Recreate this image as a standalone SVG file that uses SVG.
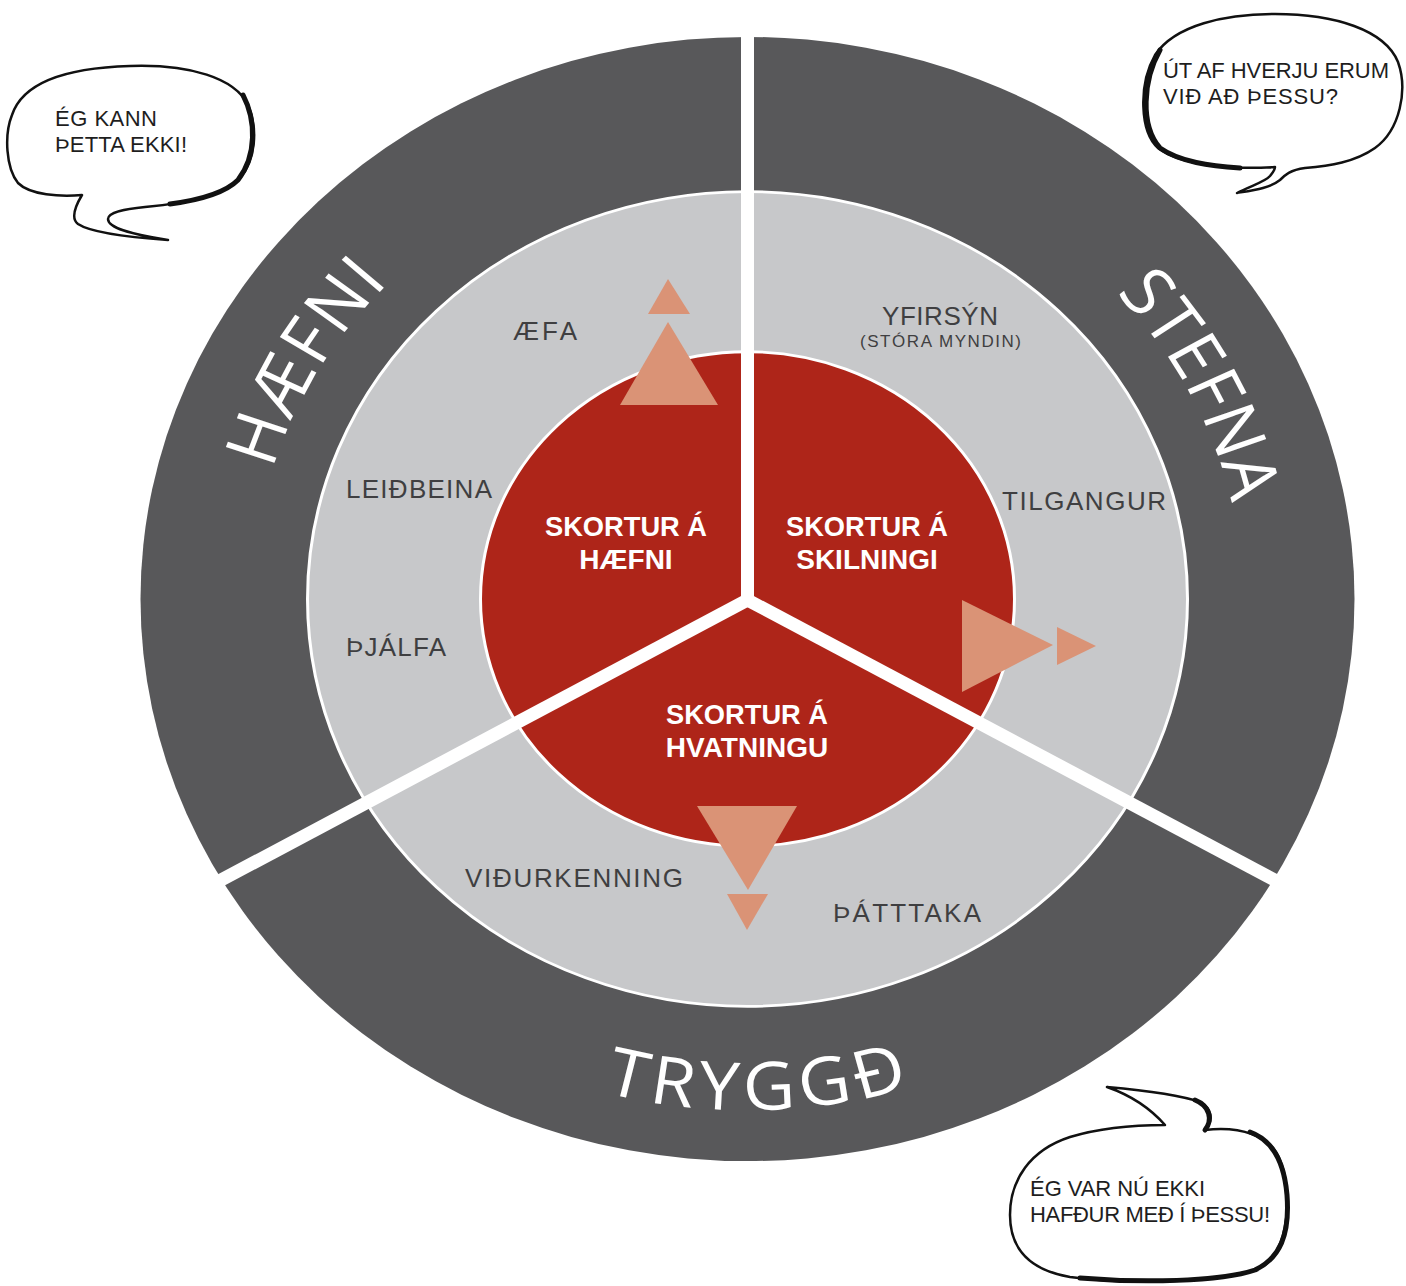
<svg xmlns="http://www.w3.org/2000/svg" width="1406" height="1286" viewBox="0 0 1406 1286">
<style>
.dark{fill:#58585a}
.light{fill:#c7c8ca;stroke:#fff;stroke-width:3}
.red{fill:#ae2519;stroke:#fff;stroke-width:3}
.tri{fill:#da9376}
.div{stroke:#fff;stroke-width:13;fill:none}
.big{font-family:"Open Sans","Liberation Sans",sans-serif;font-size:72px;fill:#fff}
.lbl{font-family:"Liberation Sans",Arial,sans-serif;font-size:26px;fill:#3f3f41}
.sm{font-size:17px}
.rt{font-family:"Liberation Sans",Arial,sans-serif;font-size:28px;font-weight:bold;fill:#fff;text-anchor:middle}
.bt{font-family:"Liberation Sans",Arial,sans-serif;font-size:22px;fill:#1e1e1e}
.bub{fill:#fff;stroke:#111;stroke-width:2.5;stroke-linejoin:round}
.brush{fill:none;stroke:#111;stroke-width:5;stroke-linecap:round}
</style>
<defs>
<path id="arcH" d="M -487.5 -86.0 A 495 495 0 0 1 -318.2 -379.2"/>
<path id="arcS" d="M 337.6 -362.0 A 495 495 0 0 1 491.3 -60.3"/>
<path id="arcT" d="M -179.7 521.9 A 552 552 0 0 0 197.8 515.4"/>
</defs>
<rect width="1406" height="1286" fill="#fff"/>

<g id="wheel" transform="translate(747.5 599) scale(1 0.926)">
  <circle id="outer-ring" class="dark" r="607"/>
  <circle id="middle-ring" class="light" r="440"/>
  <circle id="inner-core" class="red" r="267"/>
  <g id="label-haefni"><text class="big" text-anchor="middle"><textPath href="#arcH" startOffset="50%" textLength="234" lengthAdjust="spacing">HÆFNI</textPath></text></g>
  <g id="label-stefna"><text class="big" text-anchor="middle"><textPath href="#arcS" startOffset="50%" textLength="258" lengthAdjust="spacing">STEFNA</textPath></text></g>
  <g id="label-tryggd"><text class="big" text-anchor="middle"><textPath href="#arcT" startOffset="50%" textLength="310" lengthAdjust="spacing">TRYGGÐ</textPath></text></g>
</g>

<g id="connectors">
  <line class="div" x1="747.5" y1="600" x2="747.5" y2="28"/>
  <line class="div" x1="747.5" y1="600" x2="208" y2="887"/>
  <line class="div" x1="747.5" y1="600" x2="1286" y2="886"/>
  <circle cx="747.5" cy="600" r="7" fill="#fff"/>
</g>

<g id="arrows">
  <polygon class="tri" points="668,322 620,405 718,405"/>
  <polygon class="tri" points="668,279 648,314 690,314"/>
  <polygon class="tri" points="962,600 962,692 1053,645"/>
  <polygon class="tri" points="1057,627 1057,665 1096,646"/>
  <polygon class="tri" points="697,806 797,806 748,890"/>
  <polygon class="tri" points="727,894 768,894 747,930"/>
</g>

<g id="core-haefni"><text class="rt"><tspan x="626" y="536" textLength="162" lengthAdjust="spacingAndGlyphs">SKORTUR Á</tspan><tspan x="626" y="569">HÆFNI</tspan></text></g>
<g id="core-skilningi"><text class="rt"><tspan x="867" y="536" textLength="162" lengthAdjust="spacingAndGlyphs">SKORTUR Á</tspan><tspan x="867" y="569">SKILNINGI</tspan></text></g>
<g id="core-hvatningu"><text class="rt"><tspan x="747" y="724" textLength="162" lengthAdjust="spacingAndGlyphs">SKORTUR Á</tspan><tspan x="747" y="757">HVATNINGU</tspan></text></g>

<g id="item-aefa"><text class="lbl" x="513" y="340" textLength="64" lengthAdjust="spacing">ÆFA</text></g>
<g id="item-leidbeina"><text class="lbl" x="346" y="498" textLength="146" lengthAdjust="spacing">LEIÐBEINA</text></g>
<g id="item-thjalfa"><text class="lbl" x="346" y="656" textLength="100" lengthAdjust="spacing">ÞJÁLFA</text></g>
<g id="item-yfirsyn"><text class="lbl"><tspan x="882" y="325" textLength="116" lengthAdjust="spacing">YFIRSÝN</tspan><tspan class="sm" x="860" y="347" textLength="161" lengthAdjust="spacing">(STÓRA MYNDIN)</tspan></text></g>
<g id="item-tilgangur"><text class="lbl" x="1002" y="510" textLength="164" lengthAdjust="spacing">TILGANGUR</text></g>
<g id="item-vidurkenning"><text class="lbl" x="465" y="887" textLength="218" lengthAdjust="spacing">VIÐURKENNING</text></g>
<g id="item-thatttaka"><text class="lbl" x="833" y="922" textLength="148" lengthAdjust="spacing">ÞÁTTTAKA</text></g>

<g id="bubble-1">
  <path class="bub" d="M 82 195 C 60 197, 30 195, 18 183 C 6 168, 4 135, 12 115 C 22 85, 60 68, 130 66 C 190 64, 235 78, 248 105 C 258 128, 256 160, 240 178 C 225 195, 190 203, 145 207 C 125 209, 108 212, 108 219 C 108 228, 130 234, 168 240 C 125 237, 90 232, 78 224 C 70 218, 76 205, 82 195 Z"/>
  <path class="brush" d="M 243 95 C 256 120, 257 155, 238 180 C 225 193, 200 200, 170 204"/>
  <text class="bt"><tspan x="55" y="126" textLength="102" lengthAdjust="spacing">ÉG KANN</tspan><tspan x="55" y="152" textLength="132" lengthAdjust="spacing">ÞETTA EKKI!</tspan></text>
</g>

<g id="bubble-2">
  <path class="bub" d="M 1275 167 C 1230 170, 1180 165, 1158 148 C 1140 132, 1138 85, 1155 55 C 1175 25, 1225 14, 1275 14 C 1335 14, 1385 30, 1398 62 C 1408 90, 1400 130, 1375 148 C 1355 162, 1330 166, 1305 168 C 1290 170, 1285 175, 1280 180 C 1270 188, 1255 190, 1237 193 C 1250 186, 1265 182, 1270 176 C 1273 172, 1275 170, 1275 167 Z"/>
  <path class="brush" d="M 1160 50 C 1143 80, 1140 125, 1160 148 C 1180 162, 1210 166, 1240 168"/>
  <text class="bt"><tspan x="1163" y="78" textLength="226" lengthAdjust="spacing">ÚT AF HVERJU ERUM</tspan><tspan x="1163" y="104" textLength="175" lengthAdjust="spacing">VIÐ AÐ ÞESSU?</tspan></text>
</g>

<g id="bubble-3">
  <path class="bub" d="M 1165 1125 C 1150 1108, 1130 1095, 1107 1087 C 1140 1090, 1180 1095, 1200 1102 C 1212 1108, 1214 1120, 1205 1130 C 1240 1126, 1270 1135, 1280 1160 C 1292 1190, 1290 1245, 1265 1265 C 1235 1283, 1130 1285, 1070 1277 C 1030 1270, 1010 1250, 1010 1215 C 1010 1180, 1030 1150, 1070 1137 C 1100 1128, 1135 1125, 1165 1125 Z"/>
  <path class="brush" d="M 1250 1132 C 1272 1140, 1284 1160, 1287 1195 C 1290 1235, 1280 1258, 1255 1270 C 1220 1282, 1140 1283, 1080 1278"/>
  <path class="brush" d="M 1195 1100 C 1210 1106, 1213 1120, 1205 1130"/>
  <text class="bt"><tspan x="1030" y="1196" textLength="175" lengthAdjust="spacing">ÉG VAR NÚ EKKI</tspan><tspan x="1030" y="1222" textLength="240" lengthAdjust="spacing">HAFÐUR MEÐ Í ÞESSU!</tspan></text>
</g>
</svg>
